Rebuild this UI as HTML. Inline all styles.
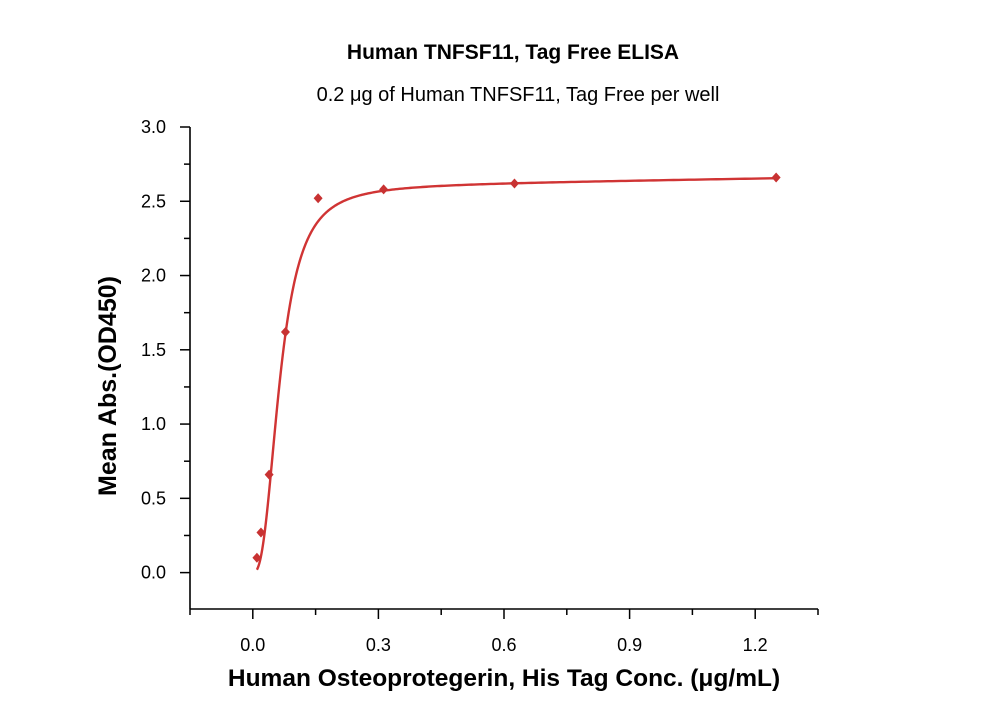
<!DOCTYPE html>
<html><head><meta charset="utf-8"><style>body{margin:0;background:#fff}svg{display:block}text{font-family:"Liberation Sans","DejaVu Sans",sans-serif}</style></head>
<body>
<svg id="chart" width="1000" height="714">
<text x="513" y="59" text-anchor="middle" font-size="21" font-weight="bold">Human TNFSF11, Tag Free ELISA</text>
<text x="518" y="101" text-anchor="middle" font-size="20">0.2 μg of Human TNFSF11, Tag Free per well</text>
<text x="504" y="686" text-anchor="middle" font-size="24.5" font-weight="bold">Human Osteoprotegerin, His Tag Conc. (μg/mL)</text>
<text transform="translate(116,386) rotate(-90)" text-anchor="middle" font-size="25" font-weight="bold">Mean Abs.(OD450)</text>
<g id="axes"></g><g id="plot"></g>
</svg>
<script>
const xValues=[0.0098,0.0195,0.039,0.078,0.156,0.3125,0.625,1.25];
const yValues=[0.10,0.27,0.66,1.62,2.52,2.58,2.62,2.66];
const xTicks=[0.0,0.3,0.6,0.9,1.2];
const xTickLabels=["0.0","0.3","0.6","0.9","1.2"];
const yTicks=[0.0,0.5,1.0,1.5,2.0,2.5,3.0];
const yTickLabels=["0.0","0.5","1.0","1.5","2.0","2.5","3.0"];
const fitA=0.0,fitB=2.6,fitC=0.065,fitD=2.6,fitSlope=0.045;
const NS="http://www.w3.org/2000/svg";
const X0=190,X1=818,Y0=609,Y1=127;
const xMin=-0.15,xMax=1.35,yMin=-0.245,yMax=3.0;
const sx=v=>X0+(v-xMin)/(xMax-xMin)*(X1-X0);
const sy=v=>Y0-(v-yMin)/(yMax-yMin)*(Y0-Y1);
function mk(t,a,p){const e=document.createElementNS(NS,t);for(const k in a)e.setAttribute(k,a[k]);p.appendChild(e);return e;}
const ax=document.getElementById('axes'),pl=document.getElementById('plot');
let e=mk('line',{x1:X0,y1:Y0,x2:X1,y2:Y0,stroke:'#000','stroke-width':1.6},ax);

e=mk('line',{x1:X0,y1:Y0,x2:X0,y2:Y1,stroke:'#000','stroke-width':1.6},ax);

for(let v=-0.15;v<=1.351;v+=0.15){const maj=Math.abs(v/0.3-Math.round(v/0.3))<1e-6;
 e=mk('line',{x1:sx(v),y1:Y0,x2:sx(v),y2:Y0+(maj?10:6),stroke:'#000','stroke-width':1.5},ax);
 }
xTicks.forEach((v,i)=>{e=mk('text',{x:sx(v),y:Y0+42,'text-anchor':'middle','font-size':18},ax);e.textContent=xTickLabels[i];
 });
for(let v=-0.25;v<=3.001;v+=0.25){if(v<yMin)continue;const maj=Math.abs(v/0.5-Math.round(v/0.5))<1e-6;
 e=mk('line',{x1:X0,y1:sy(v),x2:X0-(maj?10:6),y2:sy(v),stroke:'#000','stroke-width':1.5},ax);
 }
yTicks.forEach((v,i)=>{e=mk('text',{x:X0-24,y:sy(v)+6,'text-anchor':'end','font-size':18},ax);e.textContent=yTickLabels[i];
 });
const f=x=>fitD+(fitA-fitD)/(1+Math.pow(x/fitC,fitB))+fitSlope*x;
let d='';const n=400,lo=xValues[0],hi=xValues[xValues.length-1];
for(let i=0;i<=n;i++){const x=lo*Math.pow(hi/lo,i/n);d+=(i?'L':'M')+sx(x).toFixed(2)+','+sy(f(x)).toFixed(2);}
e=mk('path',{d:d,fill:'none',stroke:'#d03434','stroke-width':2.4},pl);

xValues.forEach((x,i)=>{const cx=sx(x),cy=sy(yValues[i]);
 e=mk('polygon',{points:`${cx},${cy-5} ${cx+4.5},${cy} ${cx},${cy+5} ${cx-4.5},${cy}`,fill:'#c83232'},pl);
 });
</script>
</body></html>
